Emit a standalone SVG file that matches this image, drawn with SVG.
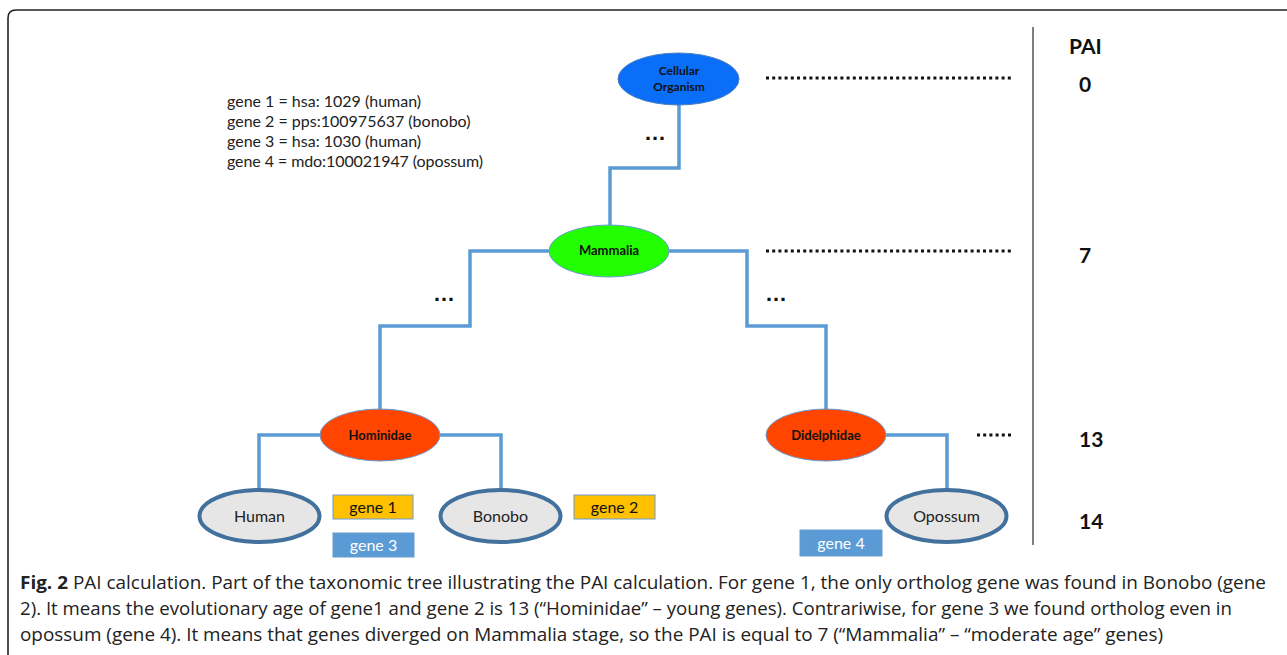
<svg xmlns="http://www.w3.org/2000/svg" width="1287" height="655" viewBox="0 0 1287 655">
<style>
.conn{fill:none;stroke:#5B9BD5;stroke-width:3.5;stroke-linejoin:miter}
.dots{stroke:#111;stroke-width:3;stroke-dasharray:3 3.2}
.inner{font-family:Lato,"Open Sans",sans-serif;font-weight:bold;font-size:13px;fill:#111;text-anchor:middle}
.ell{font-family:"Liberation Sans",sans-serif;font-weight:bold;font-size:22px;fill:#111;text-anchor:middle}
.leaf{fill:#E6E6E6;stroke:#41719C;stroke-width:4}
.leaft{font-family:Lato,"Open Sans",sans-serif;font-size:16px;fill:#222;text-anchor:middle}
.gy{fill:#FFC000;stroke:#6A9BD0;stroke-width:1}
.gb{fill:#5B9BD5;stroke:#6A9BD0;stroke-width:1}
.gt{font-family:Lato,"Open Sans",sans-serif;font-size:16px;text-anchor:middle}
.pai{font-family:Lato,"Open Sans",sans-serif;font-weight:bold;font-size:21px;fill:#111}
.legend{font-family:Lato,"Open Sans",sans-serif;font-size:16px;fill:#222}
.cap{font-family:"Open Sans","Noto Sans",sans-serif;font-size:18px;fill:#222}
</style>
<path d="M8 660 L8 18 Q8 10 16 10 L1287 10" fill="none" stroke="#222" stroke-width="1.6"/>
<line x1="1033" y1="27" x2="1033" y2="545" stroke="#555" stroke-width="1.5"/>
<g id="connectors">
<path class="conn" d="M679 105 V168 H610 V225"/>
<path class="conn" d="M549 251 H470 V326 H380 V409"/>
<path class="conn" d="M669 251 H747 V326 H826 V409"/>
<path class="conn" d="M320 435 H259 V489"/>
<path class="conn" d="M440 435 H501 V489"/>
<path class="conn" d="M886 435 H947 V489"/>
</g>
<g id="ellipsis">
<text x="655" y="140" class="ell">…</text>
<text x="444" y="301" class="ell">…</text>
<text x="776" y="301" class="ell">…</text>
</g>
<g id="levels">
<line class="dots" x1="766" y1="78" x2="1013" y2="78"/>
<line class="dots" x1="766" y1="251" x2="1013" y2="251"/>
<line class="dots" x1="977" y1="435" x2="1014" y2="435"/>
</g>
<g id="legend" class="legend">
<text x="227" y="107">gene 1 = hsa: 1029 (human)</text>
<text x="227" y="127">gene 2 = pps:100975637  (bonobo)</text>
<text x="227" y="147">gene 3 = hsa: 1030 (human)</text>
<text x="227" y="167" textLength="256">gene 4 = mdo:100021947 (opossum)</text>
</g>
<g id="cellular">
<ellipse cx="678.5" cy="79" rx="60.5" ry="26" fill="#0A6EF8" stroke="#4A7FC0" stroke-width="1"/>
<text x="679" y="75" class="inner" style="font-size:12px">Cellular</text>
<text x="679" y="91" class="inner" style="font-size:12px">Organism</text>
</g>
<g id="mammalia">
<ellipse cx="609" cy="251" rx="60" ry="26" fill="#22FF00" stroke="#6A9BD0" stroke-width="1"/>
<text x="609" y="255" class="inner">Mammalia</text>
</g>
<g id="hominidae">
<ellipse cx="380" cy="435" rx="60" ry="26" fill="#FF4500" stroke="#6A9BD0" stroke-width="1"/>
<text x="380" y="440" class="inner">Hominidae</text>
</g>
<g id="didelphidae">
<ellipse cx="826" cy="435" rx="60" ry="26" fill="#FF4500" stroke="#6A9BD0" stroke-width="1"/>
<text x="826" y="440" class="inner">Didelphidae</text>
</g>
<g id="human">
<ellipse cx="259.5" cy="516" rx="60" ry="26" class="leaf"/>
<text x="259.5" y="522" class="leaft">Human</text>
</g>
<g id="bonobo">
<ellipse cx="500.5" cy="516" rx="60" ry="26" class="leaf"/>
<text x="500.5" y="522" class="leaft">Bonobo</text>
</g>
<g id="opossum">
<ellipse cx="946.5" cy="516" rx="60" ry="26" class="leaf"/>
<text x="946.5" y="522" class="leaft">Opossum</text>
</g>
<g id="gene1">
<rect x="333" y="495" width="80" height="24" class="gy"/>
<text x="373" y="513" class="gt" fill="#111">gene 1</text>
</g>
<g id="gene2">
<rect x="574" y="495" width="81" height="24" class="gy"/>
<text x="614.5" y="513" class="gt" fill="#111">gene 2</text>
</g>
<g id="gene3">
<rect x="333" y="533" width="81" height="24" class="gb"/>
<text x="373.5" y="551" class="gt" fill="#fff">gene 3</text>
</g>
<g id="gene4">
<rect x="800" y="530" width="82" height="26" class="gb"/>
<text x="841" y="549" class="gt" fill="#fff">gene 4</text>
</g>
<g id="pai-scale" class="pai">
<text x="1069" y="54">PAI</text>
<text x="1079" y="92">0</text>
<text x="1079" y="263">7</text>
<text x="1079" y="447">13</text>
<text x="1079" y="529">14</text>
</g>
<g id="caption" class="cap">
<text x="20" y="589" textLength="1246" lengthAdjust="spacingAndGlyphs"><tspan font-weight="bold">Fig. 2</tspan> PAI calculation. Part of the taxonomic tree illustrating the PAI calculation. For gene 1, the only ortholog gene was found in Bonobo (gene</text>
<text x="20" y="615" textLength="1212" lengthAdjust="spacingAndGlyphs">2). It means the evolutionary age of gene1 and gene 2 is 13 (“Hominidae” – young genes). Contrariwise, for gene 3 we found ortholog even in</text>
<text x="20" y="641" textLength="1143" lengthAdjust="spacingAndGlyphs">opossum (gene 4). It means that genes diverged on Mammalia stage, so the PAI is equal to 7 (“Mammalia” – “moderate age” genes)</text>
</g>
</svg>
